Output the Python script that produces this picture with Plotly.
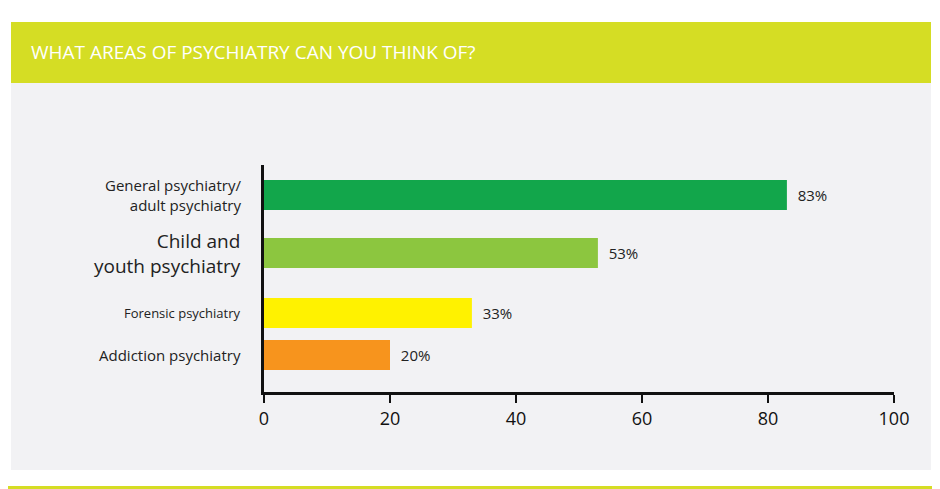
import plotly.graph_objects as go

categories = ["General psychiatry/<br>adult psychiatry", "Child and<br>youth psychiatry",
              "Forensic psychiatry", "Addiction psychiatry"]
values = [83, 53, 33, 20]
colors = ["#12a64b", "#8cc63f", "#fff200", "#f7941d"]
label_sizes = [15, 19, 13, 15]
row_pos = [197, 139, 79, 37]
tick_vals = [0, 20, 40, 60, 80, 100]

W, H = 940, 489
DX, DY = 7, 8
L, R, T = 263 - DX, 47 + DX, 165 - DY
B = H - T - 227
pw, ph = W - L - R, H - T - B
def px(x): return (x - DX - L) / pw
def py(y): return (H - B - (y - DY)) / ph

fig = go.Figure(go.Bar(
    x=values, y=row_pos, orientation="h", width=30,
    marker=dict(color=colors, line_width=0),
    text=[f"  {v}%" for v in values], textposition="outside",
    textfont=dict(size=15, color="#222", family="Open Sans"),
    cliponaxis=False, hoverinfo="skip"))

shapes = [
    dict(type="rect", xref="paper", yref="paper", x0=px(10), x1=px(930), y0=py(82), y1=py(470),
         fillcolor="#f2f2f4", line_width=0, layer="below"),
    dict(type="rect", xref="paper", yref="paper", x0=px(10), x1=px(930), y0=py(22), y1=py(83),
         fillcolor="#d5dd24", line_width=0, layer="below"),
    dict(type="rect", xref="paper", yref="paper", x0=px(1.5), x1=px(938.5), y0=py(1.5), y1=py(487.5),
         fillcolor="rgba(0,0,0,0)", line=dict(color="#d5dd24", width=3)),
]
ann = [dict(text="WHAT AREAS OF PSYCHIATRY CAN YOU THINK OF?", xref="paper", yref="paper",
            x=px(28), y=py(52), xanchor="left", yanchor="middle", showarrow=False,
            font=dict(size=19, color="white", family="Open Sans"))]
for c, y, s in zip(categories, row_pos, label_sizes):
    ann.append(dict(text=c, xref="paper", yref="y", x=px(242), y=y, xanchor="right",
                    align="right", showarrow=False,
                    font=dict(size=s, color="#222", family="Open Sans")))

fig.update_layout(
    width=W, height=H, margin=dict(l=L, r=R, t=T, b=B),
    paper_bgcolor="white", plot_bgcolor="rgba(0,0,0,0)", showlegend=False,
    shapes=shapes, annotations=ann,
    xaxis=dict(range=[0, 100], tickvals=tick_vals, showgrid=False, zeroline=False,
               showline=True, linecolor="#111", linewidth=3, ticks="outside", ticklen=8,
               tickwidth=2, tickcolor="#111", tickprefix="<b>", ticksuffix="</b>",
               tickfont=dict(size=18, color="#111", family="Open Sans"), fixedrange=True),
    yaxis=dict(range=[0, ph], showticklabels=False, showgrid=False, zeroline=False,
               showline=True, linecolor="#111", linewidth=3),
)
fig.write_html("out.html")
